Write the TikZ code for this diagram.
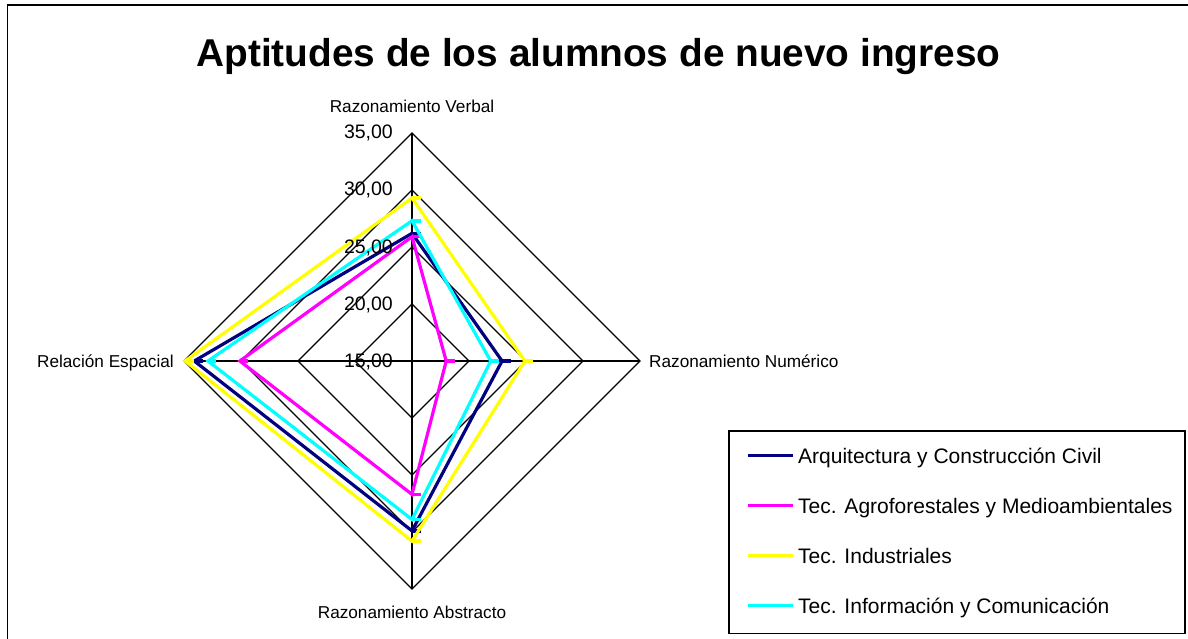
\documentclass[tikz,border=0pt]{standalone}
\usepackage{fontspec}
\setmainfont{Liberation Sans}
\definecolor{serA}{HTML}{000080}
\definecolor{serB}{HTML}{FF00FF}
\definecolor{serC}{HTML}{FFFF00}
\definecolor{serD}{HTML}{00FFFF}
\newcommand{\radscale}{11.4}
\newcommand{\radarseries}[5]{%
  \draw[serie,#1] (412,{361-(#2-15)*\radscale}) -- ({412+(#3-15)*\radscale},361)
     -- (412,{361+(#4-15)*\radscale}) -- ({412-(#5-15)*\radscale},361) -- cycle;
  \draw[mk,#1] (412.5,{361-(#2-15)*\radscale}) -- (420.5,{361-(#2-15)*\radscale});
  \draw[mk,#1] ({412.5+(#3-15)*\radscale},361) -- ({420.5+(#3-15)*\radscale},361);
  \draw[mk,#1] (412.5,{361+(#4-15)*\radscale}) -- (420.5,{361+(#4-15)*\radscale});
  \draw[mk,#1] ({412.5-(#5-15)*\radscale},361) -- ({420.5-(#5-15)*\radscale},361);
}
\tikzset{
  gridline/.style={draw=black,line width=1.3pt},
  serie/.style={line width=3.2pt,line join=miter},
  mk/.style={line width=3.5pt,line cap=butt},
  ticklbl/.style={inner sep=0pt,anchor=base east,font=\fontsize{19.5}{22}\selectfont},
  axislbl/.style={inner sep=0pt,font=\fontsize{17.2}{20}\selectfont},
  legtxt/.style={inner sep=0pt,anchor=base west,font=\fontsize{21}{25}\selectfont},
}
\begin{document}
\begin{tikzpicture}[x=1pt,y=-1pt]
\useasboundingbox (0,0) rectangle (1188,639);
\fill[white] (0,0) rectangle (1188,639);
% outer frame (cropped at right and bottom)
\draw[line width=1.3pt] (7.3,645) -- (7.3,5) -- (1195,5);
% title
\node[inner sep=0pt,anchor=base,font=\bfseries\fontsize{38.8}{44}\selectfont] (title) at (598.5,66.7) {Aptitudes de los alumnos de nuevo ingreso};
% grid
\coordinate (C) at (412,361);
\foreach \v in {20,25,30,35}{
  \pgfmathsetmacro{\r}{(\v-15)*\radscale}
  \draw[gridline] (412,361-\r) -- (412+\r,361) -- (412,361+\r) -- (412-\r,361) -- cycle;
}
\coordinate (vt) at (412,{361-20*\radscale});
\coordinate (vr) at ({412+20*\radscale},361);
\coordinate (vb) at (412,{361+20*\radscale});
\coordinate (vl) at ({412-20*\radscale},361);
\draw[gridline] (vt) -- (vb);
\draw[gridline] (vl) -- (vr);
% series
\radarseries{serA}{26.2}{22.9}{29.9}{34.1}
\radarseries{serB}{25.9}{18.0}{26.7}{30.1}
\radarseries{serC}{29.3}{24.9}{30.8}{34.9}
\radarseries{serD}{27.3}{21.9}{28.9}{32.9}
% tick labels
\foreach \v/\t in {35/35,30/30,25/25,20/20,15/15}{
  \node[ticklbl] (tk\v) at (393,{361-(\v-15)*\radscale+6}) {\t,00};
}
% axis labels
\node[axislbl,anchor=base] (lv) at (412,112.7) {Razonamiento Verbal};
\node[axislbl,anchor=base west] (ln) at (649,367) {Razonamiento Numérico};
\node[axislbl,anchor=base] (la) at (412,618.5) {Razonamiento Abstracto};
\node[axislbl,anchor=base east] (le) at (174,367) {Relación Espacial};
% legend
\draw[line width=1.3pt] (729,431) rectangle (1185,633.7);
\foreach \c/\yy/\t [count=\i] in {serA/455.7/Arquitectura y Construcción Civil,
                       serB/505.7/Tec. Agroforestales y Medioambientales,
                       serC/555.7/Tec. Industriales,
                       serD/605.7/Tec. Información y Comunicación}{
  \draw[serie,\c] (748,\yy) -- (793,\yy);
  \draw[mk,\c] (771.5,\yy) -- (780,\yy);
  \node[legtxt] (leg\i) at (798,\yy+7.6) {\t};
}
\end{tikzpicture}
\end{document}
